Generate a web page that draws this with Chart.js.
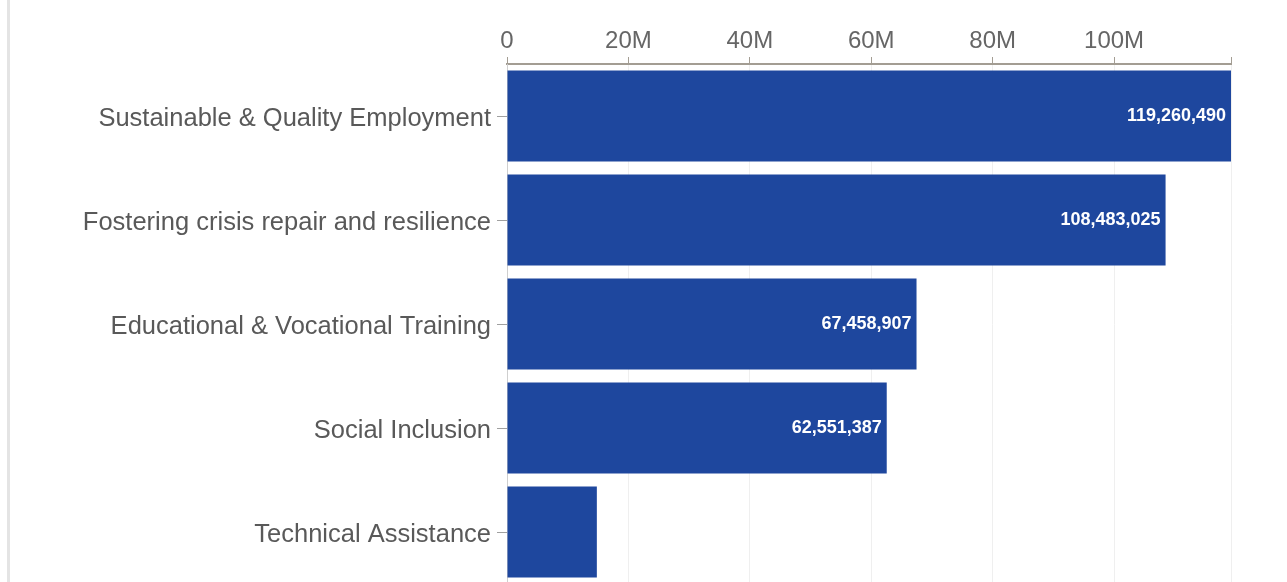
<!DOCTYPE html>
<html>
<head>
<meta charset="utf-8">
<script src="https://cdn.jsdelivr.net/npm/chart.js@4/dist/chart.umd.min.js"></script>
<style>
  html, body { margin: 0; padding: 0; background: #ffffff; }
  #wrap { position: relative; width: 1287px; height: 582px; overflow: hidden; background: #fff; }
  #edge { position: absolute; left: 7px; top: 0; width: 3px; height: 582px; background: #e4e4e4; }
  #c { position: absolute; left: 0; top: 0; }
</style>
</head>
<body>
<div id="wrap">
  <div id="edge"></div>
  <canvas id="c" width="1287" height="590"></canvas>
</div>
<script>
const categories = [
  "Sustainable & Quality Employment",
  "Fostering crisis repair and resilience",
  "Educational & Vocational Training",
  "Social Inclusion",
  "Technical Assistance"
];
const values = [119260490, 108483025, 67458907, 62551387, 14800000];
const tickValues = [0, 20000000, 40000000, 60000000, 80000000, 100000000];
const tickLabels = ["0", "20M", "40M", "60M", "80M", "100M"];
const axisMax = 119260490;
const labelThreshold = 30000000;

const FONT = "'Liberation Sans', Arial, sans-serif";

const valueLabels = {
  id: 'valueLabels',
  afterDatasetsDraw(chart) {
    const ctx = chart.ctx;
    const meta = chart.getDatasetMeta(0);
    ctx.save();
    ctx.fillStyle = '#ffffff';
    ctx.font = 'bold 18px ' + FONT;
    ctx.textAlign = 'right';
    ctx.textBaseline = 'middle';
    meta.data.forEach((bar, i) => {
      const v = values[i];
      if (v < labelThreshold) return;
      ctx.fillText(v.toLocaleString('en-US'), bar.x - 5, bar.y);
    });
    ctx.restore();
  }
};

new Chart(document.getElementById('c'), {
  type: 'bar',
  data: {
    labels: categories,
    datasets: [{
      data: values,
      backgroundColor: '#1E479E',
      borderWidth: 0,
      categoryPercentage: 1.0,
      barPercentage: 0.875
    }]
  },
  options: {
    indexAxis: 'y',
    responsive: false,
    animation: false,
    layout: { padding: { top: 0, right: 56, bottom: 6, left: 0 } },
    plugins: {
      legend: { display: false },
      tooltip: { enabled: false }
    },
    scales: {
      x: {
        position: 'top',
        min: 0,
        max: axisMax,
        afterBuildTicks(scale) {
          scale.ticks = tickValues.map(v => ({ value: v })).concat([{ value: axisMax }]);
        },
        afterTickToLabelConversion(scale) {
          scale.ticks.forEach((t, i) => { t.label = i < tickLabels.length ? tickLabels[i] : ''; });
        },
        afterFit(scale) { scale.height = 64; scale.paddingLeft = 0; scale.paddingRight = 0; },
        grid: {
          color: '#efefef',
          tickColor: '#a39d93',
          tickLength: 7,
          lineWidth: 1
        },
        border: { color: '#a39d93', width: 2 },
        ticks: {
          padding: 1,
          color: '#666666',
          font: { family: FONT, size: 24 },
          maxRotation: 0,
          autoSkip: false
        }
      },
      y: {
        afterFit(scale) { scale.width = 507; scale.paddingTop = 0; scale.paddingBottom = 0; },
        grid: {
          offset: false,
          drawOnChartArea: false,
          tickColor: '#a0a0a0',
          tickLength: 10
        },
        border: { color: '#cfcfcf', width: 1 },
        ticks: {
          padding: 6,
          labelOffset: 3,
          color: '#595959',
          font: { family: FONT, size: 25.5 }
        }
      }
    }
  },
  plugins: [valueLabels]
});
</script>
</body>
</html>
